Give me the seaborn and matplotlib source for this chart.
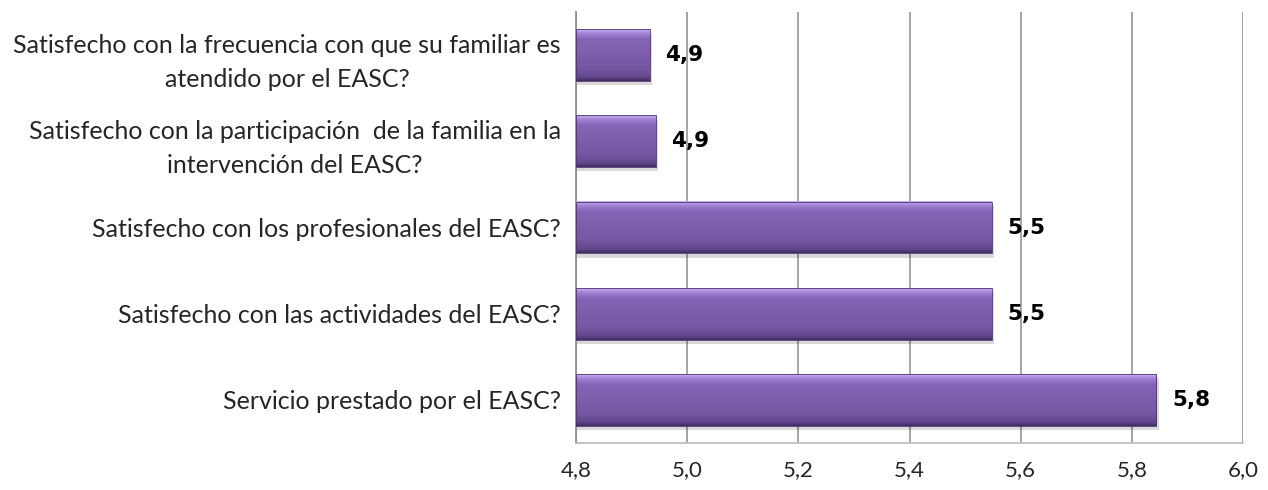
import numpy as np
import pandas as pd
import matplotlib
matplotlib.use("Agg")
import matplotlib.pyplot as plt
import seaborn as sns
from matplotlib.colors import LinearSegmentedColormap

# Survey items and their mean satisfaction scores
preguntas = [
    "Satisfecho con la frecuencia con que su familiar es\natendido por el EASC?",
    "Satisfecho con la participación  de la familia en la\nintervención del EASC?",
    "Satisfecho con los profesionales del EASC?",
    "Satisfecho con las actividades del EASC?",
    "Servicio prestado por el EASC?",
]
puntuaciones = [4.933, 4.943, 5.548, 5.548, 5.844]
ticks_x = [4.8, 5.0, 5.2, 5.4, 5.6, 5.8, 6.0]

df = pd.DataFrame({"pregunta": preguntas, "puntuacion": puntuaciones})

sns.set_theme(style="white")
plt.rcParams["font.family"] = ["Lato", "DejaVu Sans"]

fig = plt.figure(figsize=(12.68, 4.9), dpi=100)
ax = fig.add_axes([0.4543, 0.0959, 0.5260, 0.8796])

sns.barplot(data=df, x="puntuacion", y="pregunta", orient="h",
            color="#7b5ba8", width=0.6, ax=ax, zorder=3)

XMIN, XMAX = ticks_x[0], ticks_x[-1]
ax.set_xlim(XMIN, XMAX)
ax.set_ylim(4.5, -0.5)

# Vertical gradient fill with a soft shadow for each bar
cmap = LinearSegmentedColormap.from_list(
    "bevel",
    [(0.0, "#cfb2f8"), (0.08, "#a383d4"), (0.20, "#8464b4"),
     (0.75, "#7657a4"), (0.92, "#63488d"), (1.0, "#3f2c5e")])
grad = np.linspace(0, 1, 256).reshape(-1, 1)
for p in list(ax.patches):
    x0, y0 = p.get_x(), p.get_y()
    w, h = p.get_width(), p.get_height()
    x1 = x0 + w
    xs = max(x0, XMIN)
    shadow = plt.Rectangle((xs, y0 + 0.05), x1 - xs + 0.004, h, color="#000000",
                           alpha=0.15, lw=0, zorder=2)
    ax.add_patch(shadow)
    p.set_visible(False)
    ax.imshow(grad, cmap=cmap, aspect="auto",
              extent=(xs, x1, y0 + h, y0), zorder=3,
              interpolation="bicubic")
    edge = plt.Rectangle((xs, y0), x1 - xs, h, fill=False,
                         edgecolor="#4a3570", lw=0.6, zorder=4)
    ax.add_patch(edge)

ax.set_xlim(XMIN, XMAX)
ax.set_ylim(4.5, -0.5)

# Value labels
for i, v in enumerate(puntuaciones):
    ax.text(v + 0.028, i, f"{v:.1f}".replace(".", ","), va="center", ha="left",
            fontsize=15.5, fontweight="bold", color="black", zorder=5,
            family="DejaVu Sans")

ax.set_xticks(ticks_x)
ax.set_xticklabels([f"{t:.1f}".replace(".", ",") for t in ticks_x], fontsize=16)
ax.tick_params(axis="y", labelsize=18, length=0, pad=11)
ax.tick_params(axis="x", direction="out", length=5, color="#8c8c8c", pad=7)
for lbl in ax.get_yticklabels():
    lbl.set_horizontalalignment("right")
    lbl.set_multialignment("center")
    lbl.set_linespacing(1.55)
ax.set_xlabel("")
ax.set_ylabel("")

ax.grid(axis="x", color="#8c8c8c", linewidth=1.1, zorder=0)
ax.grid(axis="y", visible=False)
for s in ["top", "right"]:
    ax.spines[s].set_visible(False)
ax.spines["left"].set_color("#8c8c8c")
ax.spines["bottom"].set_color("#bdbdbd")

fig.savefig("out.png", dpi=100)
